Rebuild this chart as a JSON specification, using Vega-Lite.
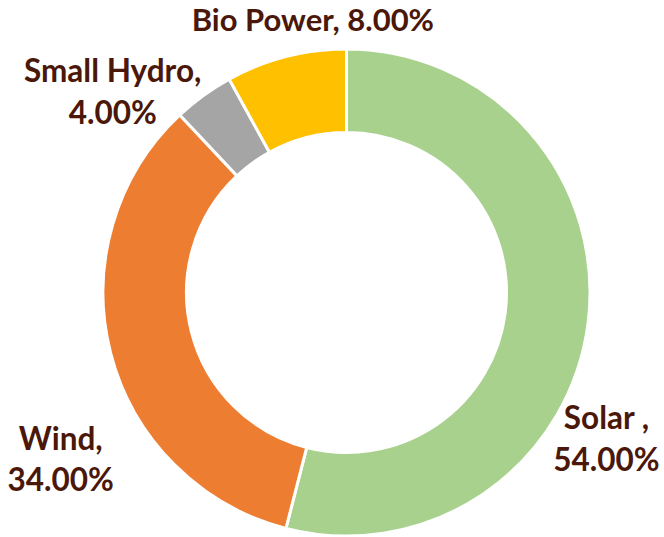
{
  "$schema": "https://vega.github.io/schema/vega-lite/v6.json",
  "width": 635,
  "height": 489,
  "autosize": {"type": "none"},
  "padding": {"left": 29, "top": 48, "right": 0, "bottom": 0},
  "background": "white",
  "config": {"view": {"stroke": null}},
  "data": {"values": [
    {"category": "Solar", "share": 54, "rank": 1, "label": "Solar ,\n54.00%"},
    {"category": "Wind", "share": 34, "rank": 2, "label": "Wind,\n34.00%"},
    {"category": "Small Hydro", "share": 4, "rank": 3, "label": "Small Hydro,\n4.00%"},
    {"category": "Bio Power", "share": 8, "rank": 4, "label": "Bio Power, 8.00%"}
  ]},
  "encoding": {
    "theta": {"field": "share", "type": "quantitative", "stack": true},
    "order": {"field": "rank", "type": "quantitative"}
  },
  "layer": [
    {
      "mark": {"type": "arc", "innerRadius": 160, "outerRadius": 243.5, "stroke": "white", "strokeWidth": 3},
      "encoding": {
        "color": {"field": "category", "type": "nominal",
          "scale": {"domain": ["Solar", "Wind", "Small Hydro", "Bio Power"], "range": ["#A9D18E", "#ED7D31", "#A5A5A5", "#FFC000"]},
          "legend": null}
      }
    },
    {
      "mark": {"type": "text", "radius": 260, "dx": 2, "dy": 104, "font": "Lato", "fontWeight": "bold", "fontSize": 31.5, "color": "#4a1708", "align": "center", "baseline": "alphabetic", "lineBreak": "\n", "lineHeight": 42},
      "encoding": {"text": {"condition": {"test": "datum.category === 'Solar'", "field": "label"}, "value": ""}}
    },
    {
      "mark": {"type": "text", "radius": 260, "dx": -34, "dy": 93, "font": "Lato", "fontWeight": "bold", "fontSize": 31.5, "color": "#4a1708", "align": "center", "baseline": "alphabetic", "lineBreak": "\n", "lineHeight": 41},
      "encoding": {"text": {"condition": {"test": "datum.category === 'Wind'", "field": "label"}, "value": ""}}
    },
    {
      "mark": {"type": "text", "radius": 260, "dx": -81, "dy": 0, "font": "Lato", "fontWeight": "bold", "fontSize": 31.5, "color": "#4a1708", "align": "center", "baseline": "alphabetic", "lineBreak": "\n", "lineHeight": 42},
      "encoding": {"text": {"condition": {"test": "datum.category === 'Small Hydro'", "field": "label"}, "value": ""}}
    },
    {
      "mark": {"type": "text", "radius": 260, "dx": 31, "dy": -10, "font": "Lato", "fontWeight": "bold", "fontSize": 31, "color": "#4a1708", "align": "center", "baseline": "alphabetic", "lineBreak": "\n", "lineHeight": 42},
      "encoding": {"text": {"condition": {"test": "datum.category === 'Bio Power'", "field": "label"}, "value": ""}}
    }
  ]
}
